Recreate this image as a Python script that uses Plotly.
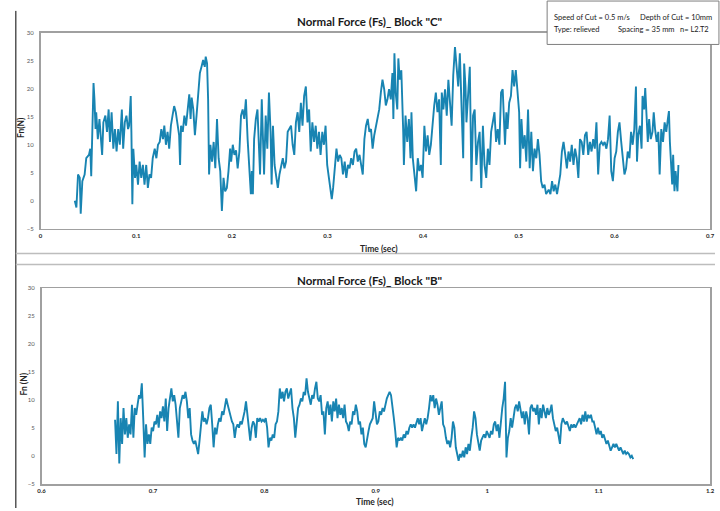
import plotly.graph_objects as go

# ---------------- DATA ----------------
# Block "C" : time (s) and normal force Fn (N)
t_top = [
    0.0358, 0.0375, 0.0392, 0.0410, 0.0420, 0.0437, 0.0461, 0.0478, 0.0506, 0.0520,
    0.0530, 0.0540, 0.0554, 0.0564, 0.0575, 0.0582, 0.0599, 0.0616, 0.0633, 0.0644,
    0.0657, 0.0678, 0.0695, 0.0712, 0.0726, 0.0743, 0.0761, 0.0778, 0.0795, 0.0812,
    0.0829, 0.0850, 0.0864, 0.0881, 0.0898, 0.0915, 0.0926, 0.0943, 0.0950, 0.0960,
    0.0970, 0.0988, 0.1001, 0.1019, 0.1036, 0.1053, 0.1070, 0.1087, 0.1105, 0.1122,
    0.1139, 0.1156, 0.1173, 0.1194, 0.1211, 0.1228, 0.1246, 0.1263, 0.1280, 0.1294,
    0.1311, 0.1328, 0.1345, 0.1363, 0.1380, 0.1397, 0.1414, 0.1432, 0.1449, 0.1459,
    0.1469, 0.1487, 0.1504, 0.1521, 0.1538, 0.1555, 0.1569, 0.1580, 0.1597, 0.1614,
    0.1631, 0.1648, 0.1666, 0.1683, 0.1700, 0.1717, 0.1727, 0.1741, 0.1752, 0.1762,
    0.1776, 0.1793, 0.1810, 0.1827, 0.1845, 0.1862, 0.1879, 0.1896, 0.1913, 0.1930,
    0.1948, 0.1965, 0.1982,
    0.1993, 0.2010, 0.2027, 0.2044, 0.2061, 0.2079, 0.2096, 0.2113, 0.2130, 0.2147,
    0.2165, 0.2182, 0.2199, 0.2209, 0.2220, 0.2233, 0.2251, 0.2268, 0.2285, 0.2295,
    0.2313, 0.2326, 0.2337, 0.2354, 0.2371, 0.2388, 0.2405, 0.2416, 0.2430, 0.2447,
    0.2464, 0.2481, 0.2498, 0.2516, 0.2533, 0.2550, 0.2567, 0.2584, 0.2602, 0.2619,
    0.2636, 0.2653, 0.2670, 0.2688, 0.2705, 0.2722, 0.2739, 0.2756, 0.2774, 0.2791,
    0.2808, 0.2825, 0.2842, 0.2860, 0.2877, 0.2894, 0.2911, 0.2928, 0.2946, 0.2963,
    0.2980, 0.2997, 0.3015, 0.3032, 0.3045, 0.3059, 0.3076, 0.3094, 0.3111, 0.3128,
    0.3145, 0.3162, 0.3180, 0.3197, 0.3214, 0.3231, 0.3248, 0.3266, 0.3283, 0.3300,
    0.3317, 0.3335, 0.3352, 0.3369, 0.3386, 0.3403, 0.3421, 0.3438, 0.3455, 0.3472,
    0.3489, 0.3507, 0.3524, 0.3541, 0.3558, 0.3575, 0.3593, 0.3610, 0.3627,
    0.3644, 0.3662, 0.3679, 0.3689, 0.3700, 0.3713, 0.3730, 0.3741, 0.3755, 0.3772,
    0.3782, 0.3792, 0.3799, 0.3816, 0.3834, 0.3851, 0.3868, 0.3878, 0.3892, 0.3909,
    0.3927, 0.3944, 0.3961, 0.3978, 0.3995, 0.4013, 0.4030, 0.4047, 0.4064, 0.4081,
    0.4099, 0.4116, 0.4133, 0.4150, 0.4167, 0.4185, 0.4195, 0.4212, 0.4229, 0.4247,
    0.4264, 0.4281, 0.4298, 0.4315, 0.4333, 0.4350, 0.4367, 0.4384, 0.4401, 0.4419,
    0.4429, 0.4443, 0.4453, 0.4470, 0.4488, 0.4505, 0.4522, 0.4539, 0.4556, 0.4574,
    0.4591, 0.4608, 0.4625, 0.4642, 0.4660, 0.4677, 0.4694, 0.4711, 0.4728, 0.4746,
    0.4763, 0.4780, 0.4797, 0.4815, 0.4832, 0.4842, 0.4856, 0.4870, 0.4883, 0.4900,
    0.4918, 0.4935, 0.4952, 0.4969, 0.4986, 0.5004, 0.5014, 0.5028, 0.5045, 0.5062,
    0.5079, 0.5097, 0.5114, 0.5131, 0.5148, 0.5165, 0.5183, 0.5200, 0.5217, 0.5234,
    0.5251, 0.5269, 0.5286,
    0.5313, 0.5331, 0.5348, 0.5365, 0.5382, 0.5400, 0.5417, 0.5434, 0.5451, 0.5468,
    0.5486, 0.5503, 0.5520, 0.5537, 0.5554, 0.5572, 0.5589, 0.5606, 0.5623, 0.5640,
    0.5658, 0.5675, 0.5692, 0.5709, 0.5726, 0.5744, 0.5761, 0.5778, 0.5795, 0.5812,
    0.5830, 0.5847, 0.5864, 0.5881, 0.5898, 0.5916, 0.5933, 0.5950, 0.5967, 0.5984,
    0.6002, 0.6019, 0.6036, 0.6053, 0.6071, 0.6088, 0.6105, 0.6122, 0.6139, 0.6157,
    0.6174, 0.6191, 0.6208, 0.6225, 0.6236, 0.6249, 0.6267, 0.6284, 0.6294, 0.6311,
    0.6322, 0.6336, 0.6349, 0.6363, 0.6380, 0.6398, 0.6411, 0.6425, 0.6442, 0.6459,
    0.6473, 0.6490, 0.6508, 0.6525, 0.6542, 0.6559, 0.6570, 0.6580, 0.6594, 0.6604,
    0.6614, 0.6628, 0.6639, 0.6649, 0.6659, 0.6669,
]
fn_top = [
    0, -1.2, 4.7, 4.1, -2.3, 3.5, 4.7, 7.6, 8.2, 9.3,
    4.4, 10.5, 21, 18, 12.8, 15.8, 11, 14.6, 10.5, 8.2,
    14, 15.2, 12.3, 16.3, 10.5, 15.8, 9.3, 12.8, 8.8, 12.8,
    10, 16.3, 9.3, 14, 15.2, 12.8, 13.4, 18.7, 12.3, -0.6,
    9.3, 4.1, 6.4, 2.9, 7, 4.1, 6.4, 2.9, 6.4, 2.3,
    4.7, 4.1, 7.6, 9.3, 7.6, 10, 10.5, 12.8, 11, 13.4,
    10, 12.3, 9.3, 13.4, 15.2, 16.9, 15.8, 14, 11.7, 6.4,
    13.4, 12.3, 15.2, 13.4, 16.3, 19, 14.6, 18.4, 16.3, 11.7,
    15.2, 19.3, 22.8, 23.9, 25.1, 23.9, 25.7, 24.5, 18.1, 4.7,
    10, 7, 10.5, 5.8, 14.6, 7.6, 5.3, -1.8, 4.1, 1.7,
    2.3, 5.3, 9.3,
    7, 10, 8.2, 9, 5.8, 8.8, 15.2, 16.3, 14.6, 18.1,
    11, 6.4, 1.2, 5.3, 1.2, 11, 14.6, 16.3, 10.5, 4.7,
    18.1, 12.3, 4.7, 15.2, 9.3, 19.3, 12.3, 2.9, 13.4, 6.4,
    4.1, 2.3, 4.7, 6.4, 7.6, 5.8, 7, 12.3, 12.8, 13.4,
    10, 8.2, 14, 15.8, 12.3, 17.5, 13.4, 18.7, 20.4, 14,
    16.3, 8.8, 14, 10.5, 13.4, 9.3, 12.3, 8.2, 12.3, 10,
    13.4, 6.4, 4.1, 1.7, 0.3, 2.3, 5.3, 9.3, 7, 8.2,
    7.6, 4.7, 7, 4.1, 6.4, 5.8, 7.6, 6.4, 8.8, 9.3,
    7, 8.2, 6.4, 4.7, 11, 13.4, 14.6, 12.3, 12.8, 9.3,
    11.7, 13.4, 15.2, 16.3, 19.3, 21.6, 19.9, 17, 18.1,
    19.9, 18.1, 22.8, 14.6, 26.3, 19.3, 16.3, 25.4, 21.6, 23.3,
    19.3, 12.3, 6.4, 15.2, 10.5, 14.6, 7.6, 15.8, 7.6, 4.7,
    1.7, 7.6, 5.3, 6.4, 4.1, 13.4, 8.8, 11.7, 8.2, 10,
    14.6, 17, 19.3, 15.8, 18.1, 6.4, 19.3, 16.3, 19.9, 15.2,
    21.6, 18.1, 13.4, 22.4, 27.4, 23.9, 20.4, 26.3, 18.1, 7.6,
    24.5, 20.4, 14, 18.1, 23.9, 3.5, 15.2, 16.3, 6.4, 10.5,
    12.3, 2.3, 13.4, 6.4, 4.1, 9.3, 6.4, 12.3, 14, 15.8,
    10.5, 12.8, 10, 19.3, 19.9, 14.6, 10, 15.8, 12.8, 17.5,
    18.7, 23.3, 20.4, 23.3, 19.9, 15.8, 5.8, 14.6, 9.3, 11.7,
    7, 16.3, 5.8, 12.3, 5.3, 9.3, 7.6, 11, 8.2, 3.5,
    2.3, 2.9, 1.2,
    2.0, 1.2, 3.5, 1.7, 2.9, 1.2, 2.9, 4.7, 8.8, 10.5,
    8.2, 5.8, 8.8, 7, 10, 6.4, 9.3, 7.6, 4.1, 11,
    10.5, 8.2, 11.7, 12.3, 8.2, 10.5, 8.8, 11, 9.3, 14,
    4.7, 10, 10.5, 10, 10.5, 9.3, 11, 15.2, 5.3, 3.5,
    7.6, 8.8, 12.3, 14, 10.5, 7.6, 4.7, 5.8, 8.8, 7.6,
    12.3, 10, 12.8, 20.4, 7, 11.7, 13.4, 9.3, 18.7, 16.3,
    20.1, 15.2, 10.5, 14.6, 11, 12.3, 15.8, 12.8, 10.5, 12.3,
    4.7, 12.8, 10.5, 14, 12.3, 14.6, 16, 10.5, 6.4, 2.9,
    8.2, 1.7, 5.3, 2.9, 1.7, 6.4,
]

# Block "B" : samples recorded from t = 0.666 s every 0.0012636 s
t_bottom_start = 0.666
t_bottom_step = 0.0012636
fn_bottom = [
    6.5, 0.4, 9.8, -1.3, 6.8, 2.2, 8.6, 3.9, 6.8, 3.3,
    5.7, 3.9, 9.2, 3.3, 8.6, 7.4, 9.2, 10.9, 10.3, 13,
    6.8, -0.2, 5.7, 2.2, 3.9, 2.2, 5.1, 4.5, 6.2, 5.7,
    7.4, 5.1, 8, 6.8, 8.9, 6.2, 10.3, 4.5, 8.6, 10.9,
    12.1, 9.8, 10.9, 9.2, 6.8, 3.3, 8.6, 9.8, 10.9, 10.3,
    11.5, 9.8, 6.8, 8.6, 3.9, 2.8, 2.2, 2.8, 1.6, 0.4,
    2.8, 5.7, 8, 6.2, 6.8, 5.7, 6.8, 8.6, 9.2, 5.7,
    1.6, 5.1, 3.9, 5.7, 6.8, 6.2, 8, 7.4, 8.6, 10.3,
    9.2, 8, 6.8, 6.2, 5.7, 3.3, 5.1, 5.7, 5.1, 6.2,
    5.7, 6.8, 8, 9.8, 7.4, 5.7, 2.8, 5.1, 6.2, 5.7,
    3.3, 6.8, 6.2, 6.8, 6.2, 6.5, 6.2, 6.8, 5.1, 1.6,
    3.3, 2.8, 3.9, 3.3, 5.7, 6.2, 8, 12.1, 10.3, 11.5,
    9.8, 11.5, 12.1, 10.3, 11.5, 12.1, 8.6, 6.8, 3.3, 5.7,
    8.6, 9.2, 10.3, 9.8, 11.5, 10.9, 13.9, 11.5, 10.3, 9.2,
    10.9, 10.3, 12.1, 13.3, 10.3, 9.8, 10.9, 7.4, 8, 3.9,
    8.6, 9.8, 7.4, 9.2, 6.2, 9.8, 8, 10.3, 6.8, 9.2,
    7.4, 8.6, 6.8, 9.2, 6.2, 5.7, 4.5, 6.2, 5.7, 8,
    7.4, 9.2, 8, 5.7, 6.2, 3.9, 5.1, 2.2, 1.6, 3.3,
    4.5, 5.7, 6.2, 6.8, 9.8, 7.4, 5.7, 6.2, 8, 7.4,
    8.6, 8, 9.2, 10.3, 10.9, 11.5, 10.9, 9.2, 6.8, 4.5,
    1.6, 3.3, 2.8, 3.3, 2.8, 3.9, 3.3, 4.5, 3.9, 5.1,
    5.7, 5.1, 5.7, 5.1, 6.2, 6.8, 5.7, 6.8, 4.5, 5.7,
    6.8, 5.7, 6.8, 8.6, 10.9, 9.8, 10.9, 8.6, 10.3, 9.2,
    7.4, 8.6, 9.8, 5.7, 5.1, 3.3, 2.2, 2.8, 1.6, 3.3,
    6.2, 5.1, 1.6, 0.4, -0.8, 0.4, -0.2, 1.0, -0.2, 1.6,
    0.4, 2.2, 1.0, 3.3, 5.1, 8, 6.8, 3.9, 2.2, 1.0,
    2.8, 3.3, 3.9, 3.3, 4.5, 3.9, 3.3, 4.5, 3.9, 5.7,
    6.2, 4.5, 5.7, 3.3, 6.8, 8.6, 10.3, 13.3, -0.2, 3.3,
    4.5, 6.8, 5.1, 7.4, 8.6, 9.2, 8, 9.8, 8.6, 6.8,
    8, 5.7, 8, 6.8, 3.9, 8.6, 9.2, 8, 8.6, 7.4,
    9.2, 5.7, 8.6, 6.8, 9.2, 8, 6.8, 8.6, 7.4, 8,
    9.2, 6.8, 5.7, 4.5, 5.1, 3.3, 2.2, 5.7, 6.8, 6.2,
    5.7, 6.2, 5.1, 4.5, 5.7, 5.1, 5.7, 5.1, 5.7, 6.2,
    6.8, 5.7, 7.4, 6.2, 8, 6.2, 7.4, 6.8, 7.4, 6.2,
    6.2, 5.1, 3.9, 5.1, 3.9, 4.5, 3.3, 3.9, 2.8, 2.2,
    2.8, 1.6, 1.0, 1.6, 2.2, 1.6, 2.2, 1.6, 1.0, 1.6,
    1.0, 0.4, 1.0, 0.4, 0.7, 0.4, -0.2, 0.1, -0.5,
]
t_bottom = [round(t_bottom_start + i * t_bottom_step, 5) for i in range(len(fn_bottom))]

title_top = 'Normal Force (Fs)_ Block "C"'
title_bottom = 'Normal Force (Fs)_ Block "B"'
x_title = "Time (sec)"
y_title_top = "Fn(N)"
y_title_bottom = "Fn (N)"
info_lines = [
    ("Speed of Cut = 0.5 m/s", "Depth of Cut = 10mm", None),
    ("Type: relieved", "Spacing = 35 mm", "n= L2.T2"),
]

# ---------------- STYLE ----------------
W, H = 720, 511
LINE = "#1884b2"
FONT = "Lato, 'Open Sans', sans-serif"
FRAME = "#a0a0a0"


def px(x):
    return x / W


def py(y):
    return 1 - y / H


fig = go.Figure()
fig.add_trace(go.Scatter(x=t_top, y=fn_top, mode="lines",
                         line=dict(color=LINE, width=1.9),
                         xaxis="x", yaxis="y", showlegend=False, hoverinfo="skip"))
fig.add_trace(go.Scatter(x=t_bottom, y=fn_bottom, mode="lines",
                         line=dict(color=LINE, width=1.9),
                         xaxis="x2", yaxis="y2", showlegend=False, hoverinfo="skip"))

common = dict(showline=True, mirror=True, linecolor=FRAME, linewidth=1.5,
              showgrid=False, zeroline=False, ticks="")
xtick = dict(size=6, color="#262626", family=FONT, weight="bold")
ytick = dict(size=6, color="#595959", family=FONT)

fig.update_layout(
    width=W, height=H, margin=dict(l=0, r=0, t=0, b=0),
    paper_bgcolor="white", plot_bgcolor="white",
    font=dict(family=FONT),
    xaxis=dict(domain=[px(37), px(715)], range=[0, 0.7], dtick=0.1, tick0=0,
               tickfont=xtick, anchor="y", **common),
    yaxis=dict(domain=[py(228), py(29)], range=[-5, 30], dtick=5, tick0=0,
               tickfont=ytick, anchor="x", ticklabelstandoff=4, **common),
    xaxis2=dict(domain=[px(38), px(715)], range=[0.6, 1.2], dtick=0.1, tick0=0.6,
                tickfont=xtick, anchor="y2", **common),
    yaxis2=dict(domain=[py(487), py(288)], range=[-5, 30], dtick=5, tick0=0,
                tickfont=ytick, anchor="x2", ticklabelstandoff=4, **common),
)

shapes = [
    dict(type="line", xref="paper", yref="paper", x0=px(12), x1=px(12), y0=py(7), y1=py(511),
         line=dict(color="#000000", width=1)),
    dict(type="line", xref="paper", yref="paper", x0=px(12), x1=px(720), y0=py(253), y1=py(253),
         line=dict(color="#bdbdbd", width=1.5)),
    dict(type="line", xref="paper", yref="paper", x0=px(12), x1=px(720), y0=py(264), y1=py(264),
         line=dict(color="#bdbdbd", width=1.5)),
    dict(type="rect", xref="paper", yref="paper", x0=px(550), x1=px(724), y0=py(41), y1=py(-3),
         fillcolor="white", line=dict(color="#7f7f7f", width=1)),
]
fig.update_layout(shapes=shapes)


def label(text, x, y, size, color="#262626", angle=0, xanchor="center"):
    return dict(text=text, x=px(x), y=py(y), xref="paper", yref="paper",
                xanchor=xanchor, yanchor="middle", showarrow=False, textangle=angle,
                font=dict(size=size, color=color, family=FONT))


ann = [
    label("<b>" + title_top + "</b>", 370, 18, 11.5, "#1a1a1a"),
    label("<b>" + title_bottom + "</b>", 370, 280, 11.5, "#1a1a1a"),
    label("<b>" + x_title + "</b>", 380, 248, 8.5),
    label("<b>" + x_title + "</b>", 376, 505, 8.5),
    label("<b>" + y_title_top + "</b>", 18, 125, 8.5, angle=-90),
    label("<b>" + y_title_bottom + "</b>", 20, 385, 8.5, angle=-90),
]

col_x = [[555, 642, None], [555, 620, 683]]
row_y = [14, 26]
for r, line in enumerate(info_lines):
    for c, txt in enumerate(line):
        if txt is None:
            continue
        ann.append(label(txt, col_x[r][c], row_y[r], 7.5, "#1a1a1a", xanchor="left"))
fig.update_layout(annotations=ann)

fig.write_html(
    "out.html",
    config={"displayModeBar": False, "staticPlot": True},
    post_script="document.body.style.margin='0px';document.body.style.overflow='hidden';",
)
